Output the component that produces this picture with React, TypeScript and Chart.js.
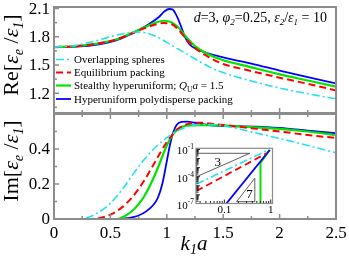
import React, { useEffect, useRef } from "react";
import { Chart, registerables } from "chart.js";
Chart.register(...registerables);

const SERIF = "'Liberation Serif', 'Times New Roman', serif";
const W = 349;
const H = 263;
const FRAME = "#8c8c8c";

// ---------------- data ----------------
// x axis (k1 a)
const X_TICKS = [0, 0.5, 1, 1.5, 2, 2.5];
const X_TICK_LABELS = ["0", "0.5", "1", "1.5", "2", "2.5"];
const X_MINOR = [0.25, 0.75, 1.25, 1.75, 2.25];

// Re panel
const RE_TICKS = [1.2, 1.5, 1.8, 2.1];
const RE_TICK_LABELS = ["1.2", "1.5", "1.8", "2.1"];
const RE_MINOR = [1.05, 1.35, 1.65, 1.95];

const reOverlapX = [0, 0.2, 0.35, 0.5, 0.62, 0.72, 0.82, 0.92, 1.0, 1.1, 1.2, 1.3, 1.45, 1.6, 1.75, 2.0, 2.25, 2.5];
const reOverlapY = [1.69, 1.71, 1.75, 1.8, 1.835, 1.85, 1.84, 1.795, 1.74, 1.67, 1.6, 1.53, 1.44, 1.38, 1.33, 1.255, 1.195, 1.14];

const reEquilX = [0, 0.2, 0.4, 0.55, 0.7, 0.8, 0.9, 0.97, 1.04, 1.1, 1.17, 1.25, 1.35, 1.5, 1.7, 2.0, 2.25, 2.5];
const reEquilY = [1.69, 1.7, 1.73, 1.77, 1.84, 1.89, 1.93, 1.945, 1.935, 1.88, 1.78, 1.68, 1.6, 1.51, 1.45, 1.365, 1.3, 1.23];

const reStealthX = [0, 0.2, 0.4, 0.55, 0.7, 0.8, 0.9, 0.97, 1.04, 1.1, 1.17, 1.25, 1.35, 1.5, 1.7, 2.0, 2.25, 2.5];
const reStealthY = [1.69, 1.7, 1.73, 1.77, 1.845, 1.9, 1.95, 1.97, 1.955, 1.9, 1.8, 1.7, 1.625, 1.55, 1.49, 1.4, 1.335, 1.27];

const rePolyX = [0, 0.2, 0.4, 0.55, 0.65, 0.75, 0.85, 0.93, 0.98, 1.02, 1.05, 1.08, 1.12, 1.16, 1.2, 1.27, 1.35, 1.5, 1.75, 2.0, 2.25, 2.5];
const rePolyY = [1.69, 1.695, 1.72, 1.76, 1.81, 1.87, 1.94, 2.01, 2.07, 2.095, 2.09, 2.04, 1.93, 1.8, 1.72, 1.665, 1.63, 1.58, 1.515, 1.44, 1.37, 1.305];

// Im panel
const IM_TICKS = [0, 0.2, 0.4];
const IM_TICK_LABELS = ["0", "0.2", "0.4"];
const IM_MINOR = [0.1, 0.3, 0.5];

const imOverlapX = [0, 0.2, 0.3, 0.4, 0.5, 0.6, 0.7, 0.8, 0.9, 1.0, 1.1, 1.2, 1.3, 1.4, 1.6, 1.8, 2.0, 2.25, 2.5];
const imOverlapY = [0, 0, 0.008, 0.04, 0.09, 0.165, 0.255, 0.34, 0.41, 0.465, 0.505, 0.53, 0.54, 0.54, 0.52, 0.49, 0.46, 0.42, 0.378];

const imEquilX = [0, 0.3, 0.4, 0.5, 0.6, 0.7, 0.8, 0.9, 1.0, 1.1, 1.2, 1.3, 1.45, 1.6, 1.8, 2.0, 2.25, 2.5];
const imEquilY = [0, 0, 0.005, 0.025, 0.065, 0.13, 0.22, 0.33, 0.44, 0.515, 0.545, 0.55, 0.54, 0.53, 0.515, 0.5, 0.48, 0.463];

const imStealthX = [0, 0.56, 0.6, 0.65, 0.7, 0.75, 0.8, 0.85, 0.9, 0.95, 1.0, 1.05, 1.1, 1.15, 1.2, 1.3, 1.5, 1.75, 2.0, 2.25, 2.5];
const imStealthY = [0, 0, 0.008, 0.025, 0.05, 0.085, 0.13, 0.19, 0.26, 0.34, 0.42, 0.48, 0.515, 0.53, 0.535, 0.537, 0.535, 0.525, 0.515, 0.5, 0.48];

const imPolyX = [0, 0.55, 0.65, 0.75, 0.82, 0.88, 0.92, 0.96, 1.0, 1.03, 1.06, 1.09, 1.13, 1.18, 1.25, 1.4, 1.6, 1.8, 2.0, 2.25, 2.5];
const imPolyY = [0, 0, 0.005, 0.02, 0.045, 0.08, 0.12, 0.2, 0.33, 0.43, 0.5, 0.54, 0.555, 0.556, 0.55, 0.535, 0.53, 0.528, 0.52, 0.505, 0.49];

// inset (log-log)
const INSET_X_LABELS = [0.1, 1];
const INSET_X_LABEL_TEXT = ["0.1", "1"];
const INSET_Y_LABELS = [1e-1, 1e-4, 1e-7];
const INSET_Y_LABEL_EXP = ["-1", "-4", "-7"];

const insOverlapX = [0.025, 0.85];
const insOverlapY = [1.53e-5, 0.0805];
const insEquilX = [0.025, 0.81];
const insEquilY = [2.7e-6, 0.038];
const insPolyX = [0.1, 0.95];
const insPolyY = [5.9e-8, 0.088];
const insStealthX = [0.6, 0.6, 0.95];
const insStealthY = [1e-9, 0.0033, 0.09];
const tri3X = [0.0252, 0.0252, 0.353, 0.0252];
const tri3Y = [1e-4, 0.038, 0.038, 1e-4];
const tri7X = [0.183, 0.453, 0.453, 0.183];
const tri7Y = [1.78e-7, 1.78e-7, 6.8e-5, 1.78e-7];
const TRI3_LABEL_AT = [0.072, 0.0042];
const TRI7_LABEL_AT = [0.35, 1.4e-6];

const C_OVERLAP = "#22e2ee";
const C_EQUIL = "#ff0000";
const C_STEALTH = "#00e400";
const C_POLY = "#0000ff";
const DASH_OVERLAP = [8, 3, 2, 3];
const DASH_EQUIL = [7, 4];

// ---------------- helpers ----------------
type Part = { t: string; s: number; i?: boolean; dy?: number };
const fontOf = (p: Part) => `${p.i ? "italic " : ""}${p.s}px ${SERIF}`;

function drawRich(ctx: CanvasRenderingContext2D, parts: Part[], x: number, y: number, align: "left" | "center" | "right") {
  ctx.textAlign = "left";
  ctx.textBaseline = "alphabetic";
  let w = 0;
  for (const p of parts) {
    ctx.font = fontOf(p);
    w += ctx.measureText(p.t).width;
  }
  let cx = align === "left" ? x : align === "center" ? x - w / 2 : x - w;
  for (const p of parts) {
    ctx.font = fontOf(p);
    ctx.fillText(p.t, cx, y + (p.dy || 0));
    cx += ctx.measureText(p.t).width;
  }
}

const pts = (xs: number[], ys: number[]) => xs.map((x, i) => ({ x, y: ys[i] }));

function lineDs(label: string, xs: number[], ys: number[], color: string, width: number, dash: number[], smooth = true) {
  return {
    label,
    data: pts(xs, ys),
    borderColor: color,
    backgroundColor: color,
    borderWidth: width,
    borderDash: dash,
    pointRadius: 0,
    fill: false,
    tension: smooth ? 0.4 : 0,
    cubicInterpolationMode: smooth ? "monotone" : "default",
  } as any;
}

function tickLine(ctx: CanvasRenderingContext2D, x1: number, y1: number, x2: number, y2: number) {
  ctx.beginPath();
  ctx.moveTo(x1, y1);
  ctx.lineTo(x2, y2);
  ctx.stroke();
}

type AxisCfg = {
  yMajor: number[];
  yMinor: number[];
  yLabels: string[];
  xLabels: boolean;
  topTicks: boolean;
};

function mainAxesPlugin(cfg: AxisCfg, extra: (chart: any) => void) {
  return {
    id: "mainAxes",
    afterDatasetsDraw(chart: any) {
      const ctx: CanvasRenderingContext2D = chart.ctx;
      const a = chart.chartArea;
      const xs = chart.scales.x;
      const ys = chart.scales.y;
      ctx.save();
      ctx.strokeStyle = FRAME;
      ctx.lineWidth = 1.5;
      ctx.setLineDash([]);
      for (const v of X_TICKS) {
        const px = xs.getPixelForValue(v);
        tickLine(ctx, px, a.bottom, px, a.bottom - 5);
        if (cfg.topTicks) tickLine(ctx, px, a.top, px, a.top + 5);
      }
      for (const v of X_MINOR) {
        const px = xs.getPixelForValue(v);
        tickLine(ctx, px, a.bottom, px, a.bottom - 3);
        if (cfg.topTicks) tickLine(ctx, px, a.top, px, a.top + 3);
      }
      for (const v of cfg.yMajor) {
        const py = ys.getPixelForValue(v);
        tickLine(ctx, a.left, py, a.left + 5, py);
      }
      for (const v of cfg.yMinor) {
        const py = ys.getPixelForValue(v);
        tickLine(ctx, a.left, py, a.left + 3, py);
      }
      ctx.lineWidth = 2;
      ctx.strokeRect(a.left, a.top, a.right - a.left, a.bottom - a.top);

      ctx.fillStyle = "#000";
      ctx.font = `17px ${SERIF}`;
      ctx.textAlign = "right";
      ctx.textBaseline = "middle";
      cfg.yMajor.forEach((v, i) => {
        ctx.fillText(cfg.yLabels[i], a.left - 4, ys.getPixelForValue(v) + 1);
      });
      if (cfg.xLabels) {
        ctx.textAlign = "center";
        ctx.textBaseline = "alphabetic";
        X_TICKS.forEach((v, i) => {
          ctx.fillText(X_TICK_LABELS[i], xs.getPixelForValue(v), a.bottom + 19);
        });
      }
      extra(chart);
      ctx.restore();
    },
  };
}

function drawVerticalTitle(ctx: CanvasRenderingContext2D, parts: Part[], x: number, y: number) {
  ctx.save();
  ctx.translate(x, y);
  ctx.rotate(-Math.PI / 2);
  drawRich(ctx, parts, 0, 0, "center");
  ctx.restore();
}

const LEGEND_ITEMS: { parts: Part[]; color: string; dash: number[]; width: number }[] = [
  { parts: [{ t: "Overlapping spheres", s: 11 }], color: C_OVERLAP, dash: DASH_OVERLAP, width: 1.6 },
  { parts: [{ t: "Equilibrium packing", s: 11 }], color: C_EQUIL, dash: DASH_EQUIL, width: 2 },
  {
    parts: [
      { t: "Stealthy hyperuniform; ", s: 11 },
      { t: "Q", s: 11, i: true },
      { t: "U", s: 7.5, dy: 2.5 },
      { t: "a", s: 11, i: true },
      { t: " = 1.5", s: 11 },
    ],
    color: C_STEALTH,
    dash: [],
    width: 2.2,
  },
  { parts: [{ t: "Hyperuniform polydisperse packing", s: 11 }], color: C_POLY, dash: [], width: 1.8 },
];
const LEGEND_ROWS = [59.5, 72.5, 85.5, 99];

function drawTopExtras(chart: any) {
  const ctx: CanvasRenderingContext2D = chart.ctx;
  const a = chart.chartArea;
  ctx.fillStyle = "#000";
  // legend
  LEGEND_ITEMS.forEach((it, i) => {
    const y = LEGEND_ROWS[i];
    ctx.save();
    ctx.strokeStyle = it.color;
    ctx.lineWidth = it.width;
    ctx.setLineDash(it.dash);
    tickLine(ctx, a.left + 2, y, a.left + 17, y);
    ctx.restore();
    ctx.fillStyle = "#000";
    drawRich(ctx, it.parts, a.left + 20, y + 3.5, "left");
  });
  // annotation
  drawRich(
    ctx,
    [
      { t: "d", s: 14, i: true },
      { t: "=3, ", s: 14 },
      { t: "φ", s: 14, i: true },
      { t: "2", s: 9, i: true, dy: 3 },
      { t: "=0.25, ", s: 14 },
      { t: "ε", s: 14, i: true },
      { t: "2", s: 9, i: true, dy: 3 },
      { t: "/", s: 14 },
      { t: "ε", s: 14, i: true },
      { t: "1", s: 9, i: true, dy: 3 },
      { t: " = 10", s: 14 },
    ],
    a.right - 9,
    22,
    "right"
  );
  // y title
  drawVerticalTitle(
    ctx,
    [
      { t: "Re[", s: 22 },
      { t: "ε", s: 22, i: true },
      { t: "e", s: 14, i: true, dy: 5 },
      { t: " /", s: 22 },
      { t: "ε", s: 22, i: true },
      { t: "1", s: 14, i: true, dy: 5 },
      { t: "]", s: 22 },
    ],
    18,
    55
  );
}

function drawBottomExtras(chart: any) {
  const ctx: CanvasRenderingContext2D = chart.ctx;
  ctx.fillStyle = "#000";
  drawVerticalTitle(
    ctx,
    [
      { t: "Im[", s: 22 },
      { t: "ε", s: 22, i: true },
      { t: "e", s: 14, i: true, dy: 5 },
      { t: " /", s: 22 },
      { t: "ε", s: 22, i: true },
      { t: "1", s: 14, i: true, dy: 5 },
      { t: "]", s: 22 },
    ],
    18,
    161
  );
  drawRich(
    ctx,
    [
      { t: "k", s: 21, i: true },
      { t: "1", s: 14, i: true, dy: 4 },
      { t: "a", s: 21, i: true },
    ],
    194,
    250,
    "center"
  );
}

const insetPlugin = {
  id: "insetAxes",
  beforeDatasetsDraw(chart: any) {
    const ctx: CanvasRenderingContext2D = chart.ctx;
    const a = chart.chartArea;
    ctx.save();
    ctx.fillStyle = "#fff";
    ctx.fillRect(a.left, a.top, a.right - a.left, a.bottom - a.top);
    ctx.restore();
  },
  afterDatasetsDraw(chart: any) {
    const ctx: CanvasRenderingContext2D = chart.ctx;
    const a = chart.chartArea;
    const xs = chart.scales.x;
    const ys = chart.scales.y;
    ctx.save();
    ctx.setLineDash([]);
    ctx.strokeStyle = "#222";
    ctx.lineWidth = 1;
    // x ticks (bottom)
    for (let d = -2; d <= 0; d++) {
      for (let m = 1; m <= 9; m++) {
        const v = m * Math.pow(10, d);
        if (v < xs.min || v > xs.max) continue;
        const px = xs.getPixelForValue(v);
        tickLine(ctx, px, a.bottom, px, a.bottom - (m === 1 ? 4 : 2.5));
      }
    }
    // y ticks (left)
    for (let d = -8; d <= -1; d++) {
      for (let m = 1; m <= 9; m++) {
        const v = m * Math.pow(10, d);
        if (v < ys.min || v > ys.max) continue;
        const py = ys.getPixelForValue(v);
        tickLine(ctx, a.left, py, a.left + (m === 1 ? 4 : 2.5), py);
      }
    }
    ctx.strokeStyle = FRAME;
    ctx.lineWidth = 1.2;
    ctx.strokeRect(a.left, a.top, a.right - a.left, a.bottom - a.top);

    ctx.fillStyle = "#000";
    INSET_Y_LABELS.forEach((v, i) => {
      const py = ys.getPixelForValue(v);
      drawRich(
        ctx,
        [
          { t: "10", s: 11 },
          { t: INSET_Y_LABEL_EXP[i], s: 7.5, dy: -5 },
        ],
        a.left - 2,
        py + 5,
        "right"
      );
    });
    INSET_X_LABELS.forEach((v, i) => {
      drawRich(ctx, [{ t: INSET_X_LABEL_TEXT[i], s: 11 }], xs.getPixelForValue(v), a.bottom + 9.5, "center");
    });
    drawRich(ctx, [{ t: "3", s: 13 }], xs.getPixelForValue(TRI3_LABEL_AT[0]), ys.getPixelForValue(TRI3_LABEL_AT[1]) + 4.5, "center");
    drawRich(ctx, [{ t: "7", s: 13 }], xs.getPixelForValue(TRI7_LABEL_AT[0]), ys.getPixelForValue(TRI7_LABEL_AT[1]) + 4.5, "center");
    ctx.restore();
  },
};

const baseOptions = (padding: any, xCfg: any, yCfg: any) => ({
  responsive: false,
  maintainAspectRatio: false,
  animation: false as const,
  devicePixelRatio: 1,
  events: [] as any[],
  layout: { padding },
  scales: { x: { ...xCfg, display: false }, y: { ...yCfg, display: false } },
  plugins: { legend: { display: false }, tooltip: { enabled: false }, title: { display: false } },
});

export default function App() {
  const topRef = useRef<HTMLCanvasElement>(null);
  const botRef = useRef<HTMLCanvasElement>(null);
  const insRef = useRef<HTMLCanvasElement>(null);

  useEffect(() => {
    const charts: Chart[] = [];
    charts.push(
      new Chart(topRef.current!, {
        type: "line",
        data: {
          datasets: [
            lineDs("Overlapping spheres", reOverlapX, reOverlapY, C_OVERLAP, 1.6, DASH_OVERLAP),
            lineDs("Equilibrium packing", reEquilX, reEquilY, C_EQUIL, 2, DASH_EQUIL),
            lineDs("Stealthy hyperuniform", reStealthX, reStealthY, C_STEALTH, 2.2, []),
            lineDs("Hyperuniform polydisperse packing", rePolyX, rePolyY, C_POLY, 1.8, []),
          ],
        },
        options: baseOptions(
          { left: 54, right: 13, top: 7, bottom: H - 113 },
          { type: "linear", min: 0, max: 2.5 },
          { type: "linear", min: 0.99, max: 2.116 }
        ) as any,
        plugins: [
          mainAxesPlugin(
            { yMajor: RE_TICKS, yMinor: RE_MINOR, yLabels: RE_TICK_LABELS, xLabels: false, topTicks: false },
            drawTopExtras
          ),
        ],
      })
    );
    charts.push(
      new Chart(botRef.current!, {
        type: "line",
        data: {
          datasets: [
            lineDs("Overlapping spheres", imOverlapX, imOverlapY, C_OVERLAP, 1.6, DASH_OVERLAP),
            lineDs("Equilibrium packing", imEquilX, imEquilY, C_EQUIL, 2, DASH_EQUIL),
            lineDs("Stealthy hyperuniform", imStealthX, imStealthY, C_STEALTH, 2.2, []),
            lineDs("Hyperuniform polydisperse packing", imPolyX, imPolyY, C_POLY, 1.8, []),
          ],
        },
        options: baseOptions(
          { left: 54, right: 13, top: 114, bottom: H - 219 },
          { type: "linear", min: 0, max: 2.5 },
          { type: "linear", min: 0, max: 0.6 }
        ) as any,
        plugins: [
          mainAxesPlugin(
            { yMajor: IM_TICKS, yMinor: IM_MINOR, yLabels: IM_TICK_LABELS, xLabels: true, topTicks: true },
            drawBottomExtras
          ),
        ],
      })
    );
    charts.push(
      new Chart(insRef.current!, {
        type: "line",
        data: {
          datasets: [
            lineDs("Overlapping spheres", insOverlapX, insOverlapY, C_OVERLAP, 1.6, DASH_OVERLAP, false),
            lineDs("Equilibrium packing", insEquilX, insEquilY, C_EQUIL, 1.8, DASH_EQUIL, false),
            lineDs("Hyperuniform polydisperse packing", insPolyX, insPolyY, C_POLY, 1.8, [], false),
            lineDs("Stealthy hyperuniform", insStealthX, insStealthY, C_STEALTH, 2, [], false),
            lineDs("slope 3", tri3X, tri3Y, "#333", 0.8, [], false),
            lineDs("slope 7", tri7X, tri7Y, "#333", 0.8, [], false),
          ],
        },
        options: baseOptions(
          { left: 196, right: W - 272.5, top: 148.3, bottom: H - 203.5 },
          { type: "logarithmic", min: 0.0245, max: 1.09 },
          { type: "logarithmic", min: 1.12e-7, max: 0.135 }
        ) as any,
        plugins: [insetPlugin],
      })
    );
    return () => charts.forEach((c) => c.destroy());
  }, []);

  const cs: React.CSSProperties = { position: "absolute", left: 0, top: 0, width: W, height: H, display: "block" };
  return (
    <div style={{ position: "absolute", left: 0, top: 0, width: W, height: H, background: "#fff" }}>
      <canvas ref={topRef} width={W} height={H} style={cs} />
      <canvas ref={botRef} width={W} height={H} style={cs} />
      <canvas ref={insRef} width={W} height={H} style={cs} />
    </div>
  );
}
